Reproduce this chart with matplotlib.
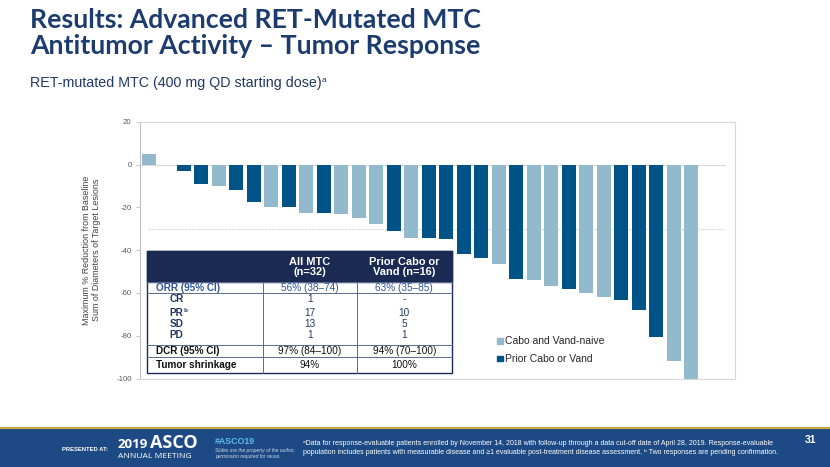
"""Waterfall: best % change in target lesions, RET-mutated MTC (ASCO 2019 slide 31)."""

import matplotlib

matplotlib.use("Agg")
import matplotlib.pyplot as plt
from matplotlib.patches import Patch, Rectangle

# --- data ------------------------------------------------------------------
CHANGE = [5, 0, -3, -9.3, -10, -12, -17.5, -20, -20, -22.5, -22.5, -23, -25, -28,
          -31.3, -34.2, -34.4, -34.6, -42, -43.8, -46.7, -53.3, -53.8, -57, -58,
          -60.2, -61.8, -63.4, -67.8, -80.6, -92, -100]
PRIOR = [0, 0, 1, 1, 0, 1, 1, 0, 1, 0, 1, 0, 0, 0, 1, 0, 1, 1, 1, 1, 0, 1, 0, 0,
         1, 0, 0, 1, 1, 1, 0, 0]  # 1 = prior cabo or vand
GROUPS = ["Cabo and Vand-naive", "Prior Cabo or Vand"]
YTICKS = [20, 0, -20, -40, -60, -80, -100]
REF_LINES = [0, -30]

TABLE_HEAD = ["", "All MTC\n(n=32)", "Prior Cabo or\nVand (n=16)"]
TABLE_ROWS = [
    ("ORR (95% CI)", "", "56% (38–74)", "63% (35–85)"),
    ("CR", "", "1", "-"),
    ("PR", "b", "17", "10"),
    ("SD", "", "13", "5"),
    ("PD", "", "1", "1"),
    ("DCR (95% CI)", "", "97% (84–100)", "94% (70–100)"),
    ("Tumor shrinkage", "", "94%", "100%"),
]

FOOTNOTE = [
    "ᵃData for response-evaluable patients enrolled by November 14, 2018 "
    "with follow-up through a data cut-off date of April 28, 2019. Response-evaluable",
    "population includes patients with measurable disease and ≥1 evaluable post-treatment "
    "disease assessment. ᵇ Two responses are pending confirmation.",
]

LIGHT = "#93b9cd"
DARK = "#005387"
NAVY = "#1c3b6e"
TBL_NAVY = "#1b2a52"
W, H = 830, 467

plt.rcParams["font.family"] = ["Liberation Sans", "DejaVu Sans"]

fig = plt.figure(figsize=(W / 100, H / 100), dpi=100)
renderer = fig.canvas.get_renderer()


def box(left, top, right, bottom):
    return [left / W, 1 - bottom / H, (right - left) / W, (bottom - top) / H]


# --- waterfall ---------------------------------------------------------------
ax = fig.add_axes(box(140, 121.7, 735, 378.5))
colors = [DARK if p else LIGHT for p in PRIOR]
ax.bar(range(len(CHANGE)), CHANGE, width=0.8, color=colors, zorder=3)
ax.set_xlim(-0.5, 33.5)
ax.set_ylim(-100, 20)
ax.set_yticks(YTICKS)
ax.set_yticklabels([str(t) for t in YTICKS])
ax.tick_params(axis="y", labelsize=5.6, labelcolor="#595959", color="#bfbfbf",
               length=3, width=0.6, pad=3)
ax.set_xticks([])
for s in ax.spines.values():
    s.set_color("#d9d9d9")
    s.set_linewidth(0.8)
ax.spines["left"].set_color("#bfbfbf")
for yv in REF_LINES:
    ax.axhline(yv, xmin=0.0 if yv == 0 else 0.014, xmax=0.983, color="#d9d9d9",
               lw=0.8, zorder=1, ls="-" if yv == 0 else (0, (2, 1)))
ax.set_ylabel("Maximum % Reduction from Baseline\nSum of Diameters of Target Lesions",
              fontsize=6.4, color="#404040", labelpad=11, linespacing=1.1)
ax.legend(handles=[Patch(color=LIGHT), Patch(color=DARK)], labels=GROUPS,
          loc="upper left", bbox_to_anchor=(488 / W, 1 - 327 / H),
          bbox_transform=fig.transFigure, frameon=False, fontsize=7.5,
          handlelength=0.5, handleheight=0.5, handletextpad=0.25,
          labelspacing=0.75, labelcolor="#262626")

# --- overlay in pixel coordinates --------------------------------------------
ov = fig.add_axes([0, 0, 1, 1], zorder=5)
ov.set_xlim(0, W)
ov.set_ylim(H, 0)
ov.axis("off")
ov.patch.set_alpha(0)


def with_sup(x, y, base, sup, size, sup_size, rise, **kw):
    """Draw base text, then a small superscript glued to its right edge."""
    t = ov.text(x, y, base, fontsize=size, **kw)
    if sup:
        bb = t.get_window_extent(renderer)
        right = ov.transData.inverted().transform((bb.x1, bb.y0))[0]
        ov.text(right + 0.3, y - rise, sup, fontsize=sup_size, **kw)
    return t


ov.text(30, 28, "Results: Advanced RET-Mutated MTC", fontsize=19.2, fontweight="bold",
        color=NAVY, family=["Lato", "DejaVu Sans"], va="baseline")
ov.text(30, 54.5, "Antitumor Activity – Tumor Response", fontsize=19.2, fontweight="bold",
        color=NAVY, family=["Lato", "DejaVu Sans"], va="baseline")
with_sup(30, 87.5, "RET-mutated MTC (400 mg QD starting dose)", "a", 10.3, 6.0, 5.5,
         color="#1f3864", va="baseline")

# table
tl, tr = 147.3, 451.7
cx = [262.7, 356.7]
row_y = [251, 281.7, 293.3, 345, 357.3, 373.3]
ov.add_patch(Rectangle((tl, row_y[0]), tr - tl, row_y[-1] - row_y[0], fc="white",
                       ec=TBL_NAVY, lw=1.0, zorder=2))
ov.add_patch(Rectangle((tl, row_y[0]), tr - tl, row_y[1] - row_y[0], fc=TBL_NAVY,
                       ec=TBL_NAVY, lw=1.0, zorder=3))
for yv in row_y[1:-1]:
    ov.plot([tl, tr], [yv, yv], color="#5a6b8c", lw=0.7, zorder=3)
for xv in cx:
    ov.plot([xv, xv], [row_y[1], row_y[-1]], color="#5a6b8c", lw=0.7, zorder=3)
col_c = [None, (cx[0] + cx[1]) / 2, (cx[1] + tr) / 2]
for j in (1, 2):
    ov.text(col_c[j], (row_y[0] + row_y[1]) / 2 + 0.5, TABLE_HEAD[j], color="white",
            fontsize=7.9, fontweight="bold", ha="center", va="center", linespacing=1.05,
            zorder=4)
text_y = [287.8, 299.3, 312.7, 324.3, 335.0, 351.4, 365.3]
for i, (lab, sup, a, b) in enumerate(TABLE_ROWS):
    if i == 0:
        lc, lx = "#2f5597", 156
    elif i <= 4:
        lc, lx = "#1f3864", 169.3
    else:
        lc, lx = "#111111", 156
    with_sup(lx, text_y[i], lab, sup, 7.2, 4.6, 2.6, color=lc, fontweight="bold",
             ha="left", va="center", zorder=4)
    ov.text(col_c[1], text_y[i], a, color=lc, fontsize=7.2, ha="center", va="center", zorder=4)
    ov.text(col_c[2], text_y[i], b, color=lc, fontsize=7.2, ha="center", va="center", zorder=4)

# footer band
ov.add_patch(Rectangle((0, 428.5), W, H - 428.5, fc="#1d4a84", ec="none", zorder=1))
ov.plot([0, W], [428, 428], color="#c9a74a", lw=1.6, zorder=2)
ov.text(62, 449.5, "PRESENTED AT:", color="white", fontsize=4.2, fontweight="bold",
        va="center", zorder=3)
ov.text(118, 448, "2019", color="white", fontsize=9.6, fontweight="bold", va="baseline",
        zorder=3, family=["Open Sans", "DejaVu Sans"])
ov.text(150, 448, "ASCO", color="white", fontsize=13.0, fontweight="bold", va="baseline",
        zorder=3, family=["Open Sans", "DejaVu Sans"])
ov.text(118, 456.5, "ANNUAL MEETING", color="white", fontsize=6.1, va="center",
        zorder=3, family=["Open Sans", "DejaVu Sans"])
ov.text(215, 441.5, "#ASCO19", color="#63b8e8", fontsize=6.4, fontweight="bold",
        va="center", zorder=3)
ov.text(215, 453.5, "Slides are the property of the author,\npermission required for reuse.",
        color="#d0d8e8", fontsize=3.5, style="italic", va="center", linespacing=1.2,
        zorder=3)
for k, line in enumerate(FOOTNOTE):
    ov.text(303, 443.5 + k * 9, line, color="white", fontsize=5.0, va="center",
            zorder=3, family=["Liberation Sans Narrow", "Liberation Sans", "DejaVu Sans"])
ov.text(811, 440, "31", color="white", fontsize=7.5, fontweight="bold", ha="center",
        va="center", zorder=3)

fig.savefig("out.png", dpi=100)
